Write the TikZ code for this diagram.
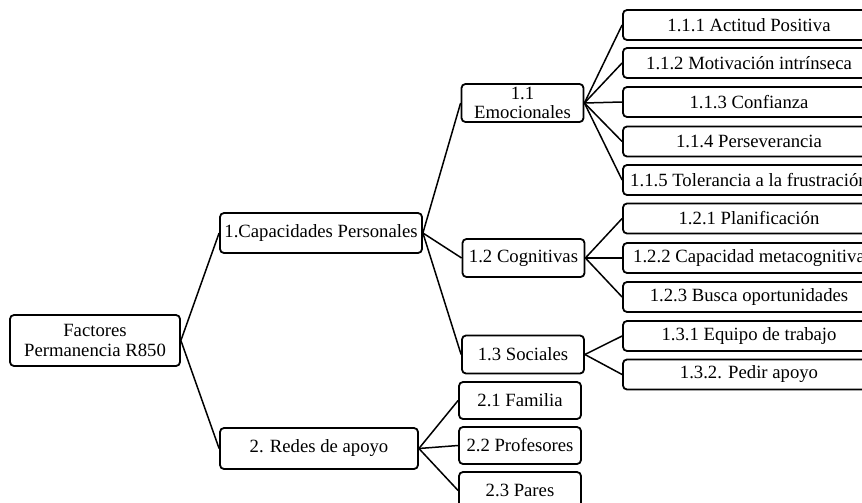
\documentclass[tikz,border=0pt]{standalone}
\usepackage{fontspec}
\setmainfont{Liberation Serif}
\begin{document}
\begin{tikzpicture}[x=1pt,y=-1pt,
  box/.style={draw=black,line width=1.8pt,rounded corners=4pt,fill=white,inner sep=1pt,
    align=center,font=\fontsize{18.7}{19.5}\selectfont,text=black},
  leaf/.style={box,minimum width=252pt,minimum height=30pt},
  mid/.style={box,minimum width=122pt,minimum height=38pt},
  con/.style={line width=1.5pt}]
\clip (0,0) rectangle (862,503);
\fill[white] (0,0) rectangle (862,503);
% main nodes
\node[box,minimum width=170pt,minimum height=51pt] (root) at (95,340.5) {Factores\\Permanencia R850};
\node[box,minimum width=202pt,minimum height=40pt] (cap) at (321,233) {1.Capacidades Personales};
\node[box,minimum width=198pt,minimum height=41pt] (red) at (319,448.5) {2. Redes de apoyo};
% middle
\node[mid] (emo) at (522.5,103) {1.1\\Emocionales};
\node[mid] (cog) at (523.5,258) {1.2 Cognitivas};
\node[mid] (soc) at (523,354.5) {1.3 Sociales};
\node[mid,minimum height=37pt] (fam) at (520,400.5) {2.1 Familia};
\node[mid,minimum height=37pt] (pro) at (520,445.5) {2.2 Profesores};
\node[mid,minimum height=37pt] (par) at (520,490.5) {2.3 Pares};
% leaves
\node[leaf] (l111) at (749,25) {1.1.1 Actitud Positiva};
\node[leaf] (l112) at (749,63) {1.1.2 Motivación intrínseca};
\node[leaf] (l113) at (749,102) {1.1.3 Confianza};
\node[leaf] (l114) at (749,141.5) {1.1.4 Perseverancia};
\node[leaf] (l115) at (749,180) {1.1.5 Tolerancia a la frustración};
\node[leaf] (l121) at (749,218.5) {1.2.1 Planificación};
\node[leaf] (l122) at (749,258) {1.2.2 Capacidad metacognitiva};
\node[leaf] (l123) at (749,297) {1.2.3 Busca oportunidades};
\node[leaf] (l131) at (749,336) {1.3.1 Equipo de trabajo};
\node[leaf] (l132) at (749,374.5) {1.3.2. Pedir apoyo};
% connectors
\draw[con] (root.east) -- (cap.west);
\draw[con] (root.east) -- (red.west);
\foreach \c in {emo,cog,soc} \draw[con] (cap.east) -- (\c.west);
\foreach \c in {fam,pro,par} \draw[con] (red.east) -- (\c.west);
\foreach \c in {l111,l112,l113,l114,l115} \draw[con] (emo.east) -- (\c.west);
\foreach \c in {l121,l122,l123} \draw[con] (cog.east) -- (\c.west);
\foreach \c in {l131,l132} \draw[con] (soc.east) -- (\c.west);
\end{tikzpicture}
\end{document}
